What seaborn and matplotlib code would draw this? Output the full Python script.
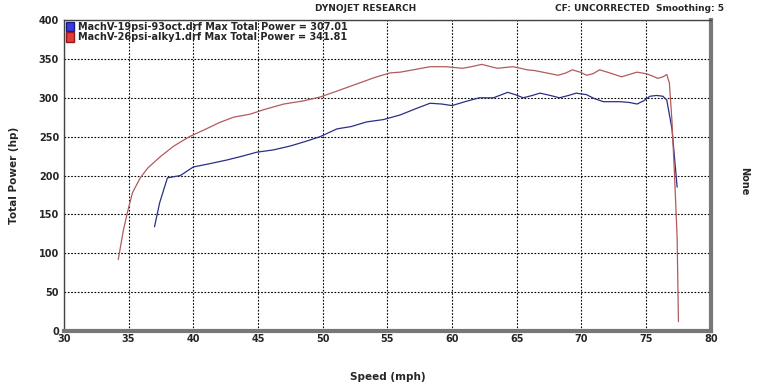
import seaborn as sns
import matplotlib.pyplot as plt
import matplotlib.patches as mpatches
import pandas as pd

# run 1: 19 psi, 93 octane
speed_19 = [37.0, 37.4, 38.0, 39.0, 40.0, 41.2, 42.6, 43.8, 44.9, 46.2, 47.5, 48.7, 49.8,
            51.1, 52.2, 53.4, 54.7, 56.0, 57.2, 58.3, 59.2, 60.0, 61.0, 62.1, 63.2, 64.3,
            64.9, 65.5, 66.2, 66.8, 67.6, 68.3, 69.0, 69.6, 70.4, 71.0, 71.7, 72.4, 73.0,
            73.7, 74.3, 74.8, 75.3, 75.8, 76.3, 76.6, 77.0, 77.4]
power_19 = [134, 165, 197, 200, 211, 215, 220, 225, 230, 233, 238, 244, 250,
            260, 263, 269, 272, 278, 286, 293, 292, 290, 295, 300, 300, 307,
            304, 300, 303, 306, 303, 300, 303, 306, 304, 299, 295, 295, 295,
            294, 292, 296, 302, 303, 302, 297, 260, 185]

# run 2: 26 psi, alky
speed_26 = [34.2, 34.6, 34.9, 35.3, 35.9, 36.5, 37.5, 38.5, 39.7, 41.0, 42.0, 43.1, 44.4,
            45.5, 47.0, 48.5, 49.8, 51.0, 52.0, 53.0, 54.0, 55.2, 56.0, 57.0, 58.3, 59.5,
            60.8, 61.5, 62.3, 63.0, 63.5, 64.1, 64.7, 65.3, 65.8, 66.4, 67.0, 67.6, 68.2,
            68.8, 69.3, 69.9, 70.4, 70.9, 71.4, 72.2, 73.1, 73.7, 74.3, 75.0, 75.5, 75.9,
            76.3, 76.6, 76.8, 77.0, 77.2, 77.4, 77.5]
power_26 = [92, 130, 152, 178, 197, 210, 225, 238, 250, 260, 268, 275, 279,
            285, 292, 296, 301, 308, 314, 320, 326, 332, 333, 336, 340, 340,
            338, 340, 343, 340, 338, 339, 340, 338, 336, 335, 333, 331, 329,
            332, 336, 333, 329, 331, 336, 332, 327, 330, 333, 331, 328, 325,
            327, 330, 319, 270, 200, 120, 12]

label_19 = "MachV-19psi-93oct.drf Max Total Power = 307.01"
label_26 = "MachV-26psi-alky1.drf Max Total Power = 341.81"

df = pd.concat([
    pd.DataFrame({"speed": speed_19, "power": power_19, "run": label_19}),
    pd.DataFrame({"speed": speed_26, "power": power_26, "run": label_26}),
])

sns.set_style("white")
plt.rcParams['font.family'] = ['DejaVu Sans']

fig = plt.figure(figsize=(7.61, 3.86), dpi=100)
ax = fig.add_axes([0.084, 0.1425, 0.85, 0.8055])

sns.lineplot(data=df, x="speed", y="power", hue="run", sort=False, estimator=None,
             palette={label_19: "#2a2f86", label_26: "#b35a5a"}, linewidth=0.9,
             legend=False, ax=ax)

ax.set_xlim(30, 80)
ax.set_ylim(0, 400)
ax.set_xticks(range(30, 81, 5))
ax.set_yticks(range(0, 401, 50))
ax.set_xticks(range(30, 81, 1), minor=True)
ax.set_yticks(range(0, 401, 10), minor=True)
ax.grid(True, which="major", color="black", linestyle=(0, (1.5, 1.5)), linewidth=0.8)
ax.tick_params(axis="both", which="major", labelsize=7, length=4, direction="in", color="#555555")
ax.tick_params(axis="both", which="minor", length=2, direction="in", color="#555555")
ax.tick_params(axis="x", pad=2)
for lab in ax.get_xticklabels() + ax.get_yticklabels():
    lab.set_fontweight("bold")

for s in ["top", "left"]:
    ax.spines[s].set_color("#444444")
    ax.spines[s].set_linewidth(1.0)
for s in ["right", "bottom"]:
    ax.spines[s].set_color("#777777")
    ax.spines[s].set_linewidth(3.0)

ax.set_xlabel("Speed (mph)", fontsize=7.5, fontweight="bold", labelpad=20)
ax.set_ylabel("Total Power (hp)", fontsize=7.5, fontweight="bold", labelpad=14)

handles = [mpatches.Patch(facecolor="#3a3ae0", edgecolor="#1a1a80", label=label_19),
           mpatches.Patch(facecolor="#e83a3a", edgecolor="#901a1a", label=label_26)]
leg = ax.legend(handles=handles, loc="upper left", bbox_to_anchor=(-0.005, 1.01),
                frameon=False, fontsize=7, handlelength=0.9, handleheight=1.1,
                handletextpad=0.4, labelspacing=0.05, borderaxespad=0.1)
for t in leg.get_texts():
    t.set_fontweight("bold")

fig.text(0.48, 0.978, "DYNOJET RESEARCH", fontsize=6.5, fontweight="bold", ha="center", va="center")
fig.text(0.84, 0.978, "CF: UNCORRECTED  Smoothing: 5", fontsize=6.5, fontweight="bold",
         ha="center", va="center")
fig.text(0.978, 0.53, "None", fontsize=7, fontweight="bold", rotation=270, ha="center", va="center")

fig.savefig("out.png", dpi=100)
